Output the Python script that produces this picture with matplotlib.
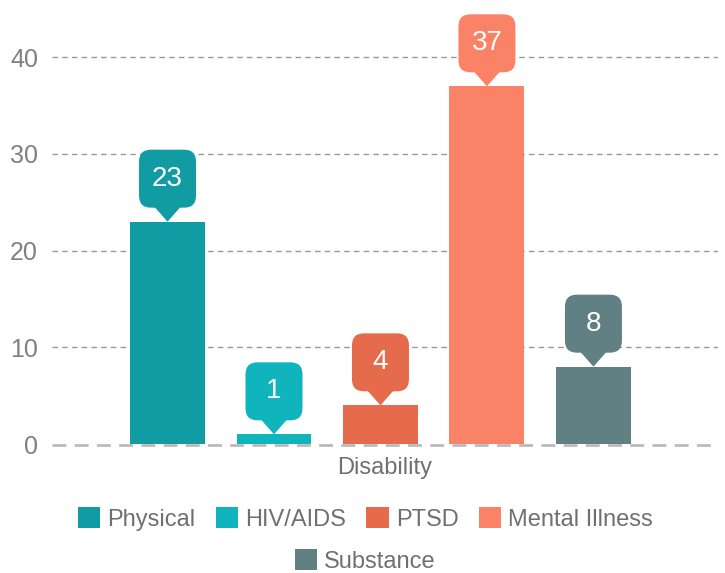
import matplotlib.pyplot as plt
import matplotlib.transforms as mtransforms
from matplotlib.patches import FancyBboxPatch, Polygon, Patch

plt.rcParams['font.family'] = ['Liberation Sans', 'DejaVu Sans']

# data
labels = ["Physical", "HIV/AIDS", "PTSD", "Mental Illness", "Substance"]
values = [23, 1, 4, 37, 8]
colors = ['#109ca2', '#10b4bc', '#e66b4d', '#fa8266', '#608084']
yticks = [0, 10, 20, 30, 40]

fig = plt.figure(figsize=(7.25, 5.73), dpi=100)
ax = fig.add_axes([52 / 725, 129 / 573, 666 / 725, 435 / 573])

x = list(range(len(values)))
ax.bar(x, values, width=0.704, color=colors, zorder=3)

ax.set_xlim(-1.085, 5.17)
ax.set_ylim(0, 45)
ax.set_yticks(yticks)
ax.set_xticks([])
for s in ax.spines.values():
    s.set_visible(False)
ax.tick_params(axis='y', length=0, pad=10, labelsize=18, labelcolor='#808080')

# grid lines
for t in yticks[1:]:
    ax.axhline(t, color='#999999', lw=1, ls=(0, (4, 3)), zorder=1)
ax.axhline(-0.12, color='#bbbbbb', lw=2, ls=(0, (5, 3)), zorder=2, clip_on=False)

# callouts above bars
for xi, v, c in zip(x, values, colors):
    tr = mtransforms.Affine2D() + mtransforms.ScaledTranslation(xi, v, ax.transData)
    box = FancyBboxPatch((-28.5, 14), 57, 58, boxstyle="round,pad=0,rounding_size=12",
                         fc=c, ec='none', transform=tr, clip_on=False, zorder=5)
    tip = Polygon([(-15, 17), (15, 17), (0, 0)], closed=True, fc=c, ec='none',
                  transform=tr, clip_on=False, zorder=5)
    ax.add_patch(box)
    ax.add_patch(tip)
    ax.annotate(str(v), xy=(xi, v), xytext=(0, 43), textcoords='offset pixels',
                ha='center', va='center', color='white', fontsize=20, zorder=6)

fig.text(385 / 725, 1 - 468 / 573, "Disability", ha='center', va='center',
         fontsize=17, color='#707070')

handles = [Patch(facecolor=c, edgecolor='none') for c in colors]
leg_kw = dict(frameon=False, fontsize=17, handlelength=0.95, handleheight=0.95,
              handletextpad=0.3, columnspacing=0.85, labelcolor='#707070',
              loc='center', borderpad=0, borderaxespad=0)
fig.legend(handles[:4], labels[:4], ncol=4, bbox_to_anchor=(0.504, 1 - 519 / 573), **leg_kw)
fig.legend(handles[4:], labels[4:], ncol=1, bbox_to_anchor=(0.504, 1 - 561 / 573), **leg_kw)

fig.savefig("out.png", dpi=100)
